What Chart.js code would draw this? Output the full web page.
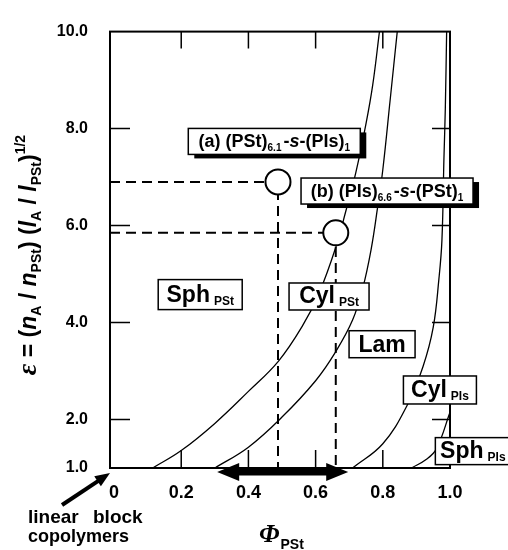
<!DOCTYPE html>
<html>
<head>
<meta charset="utf-8">
<script src="https://cdn.jsdelivr.net/npm/chart.js@4.4.1/dist/chart.umd.min.js"></script>
<style>
    html, body { margin: 0; padding: 0; background: #fff; }
    #wrap { width: 508px; height: 550px; }
</style>
</head>
<body>
<div id="wrap"><canvas id="phaseChart" width="508" height="550"></canvas></div>
<script>
// phase boundaries (x = Φ_PSt, y = ε)
const sphCylX = [0.115, 0.2, 0.3, 0.4, 0.489, 0.56, 0.61, 0.66, 0.69, 0.72, 0.75, 0.77, 0.79];
const sphCylY = [1.0, 1.36, 1.92, 2.58, 3.2, 3.92, 4.6, 5.55, 6.3, 7.1, 8.1, 8.9, 10.0];
const cylLamX = [0.3, 0.4, 0.5, 0.6, 0.66, 0.71, 0.74, 0.765, 0.785, 0.8, 0.822, 0.843];
const cylLamY = [1.0, 1.43, 2.05, 2.8, 3.4, 4.05, 4.7, 5.5, 6.4, 7.15, 8.6, 10.0];
const lamCylX = [0.71, 0.8, 0.873, 0.92, 0.95, 0.967, 0.976, 0.982, 0.986, 0.99];
const lamCylY = [1.0, 1.5, 2.3, 3.1, 3.9, 4.9, 5.7, 7.4, 8.4, 10.0];
const cylSphX = [0.885, 0.93, 0.96, 1.0];
const cylSphY = [1.0, 1.18, 1.4, 2.15];

// samples (a) and (b)
const sampleX = [0.488, 0.66];
const sampleY = [6.9, 5.85];

// range covered by the star copolymers (double arrow)
const starRange = [0.307, 0.697];

const xTicks = [0, 0.2, 0.4, 0.6, 0.8, 1.0];
const xTickLabels = ['0', '0.2', '0.4', '0.6', '0.8', '1.0'];
const yTicks = [1, 2, 4, 6, 8, 10];
const yTickLabels = ['1.0', '2.0', '4.0', '6.0', '8.0', '10.0'];
const innerXTicks = [0.2, 0.4, 0.6, 0.8];
const innerYTicks = [2, 4, 6, 8];

const SANS = '"Liberation Sans", Arial, sans-serif';
const SERIF = '"Liberation Serif", "Times New Roman", serif';

function toPoints(xs, ys) {
    return xs.map((x, i) => ({x: x, y: ys[i]}));
}

function big(t, gap) { return {t: t, f: 'bold 23px ' + SANS, gap: gap || 0}; }
function sub(t) { return {t: t, f: 'bold 12px ' + SANS, dy: 3}; }
function lab(t) { return {t: t, f: 'bold 18px ' + SANS}; }
function labIt(t) { return {t: t, f: 'italic bold 18px ' + SANS}; }
function labSub(t, gap) { return {t: t, f: 'bold 10px ' + SANS, dy: 4, gap: gap || 0}; }

// boxed labels, placed in data coordinates
const phaseLabels = [
    {x: 0.477, y: 7.735, w: 172, h: 26, shadow: true, base: 6,
        parts: [lab('(a) (PSt)'), labSub('6.1', 2), lab('-'), labIt('s'), lab('-(PIs)'), labSub('1')]},
    {x: 0.8126, y: 6.712, w: 172, h: 26, shadow: true, base: 6,
        parts: [lab('(b) (PIs)'), labSub('6.6', 2), lab('-'), labIt('s'), lab('-(PSt)'), labSub('1')]},
    {x: 0.2565, y: 4.576, w: 84, h: 30, base: 7, parts: [big('Sph', 4), sub('PSt')]},
    {x: 0.640, y: 4.537, w: 80, h: 27, base: 7, parts: [big('Cyl', 4), sub('PSt')]},
    {x: 0.7978, y: 3.553, w: 66, h: 27, base: 8, parts: [big('Lam')]},
    {x: 0.970, y: 2.609, w: 73, h: 28, base: 7, parts: [big('Cyl', 4), sub('PIs')]},
    {x: 1.068, y: 1.348, w: 75, h: 27, base: 7, parts: [big('Sph', 4), sub('PIs')]}
];

function richWidth(ctx, parts) {
    let w = 0;
    parts.forEach(p => {
        ctx.font = p.f;
        w += ctx.measureText(p.t).width + (p.gap || 0);
    });
    return w;
}

function drawRich(ctx, parts, x, y) {
    parts.forEach(p => {
        ctx.font = p.f;
        ctx.fillText(p.t, x, y + (p.dy || 0));
        x += ctx.measureText(p.t).width + (p.gap || 0);
    });
}

const framePlugin = {
    id: 'frame',
    beforeDatasetsDraw(chart) {
        const ctx = chart.ctx;
        const a = chart.chartArea;
        const xs = chart.scales.x, ys = chart.scales.y;
        ctx.save();
        ctx.strokeStyle = '#000';
        ctx.lineWidth = 2;
        ctx.strokeRect(a.left, a.top, a.right - a.left, a.bottom - a.top);
        ctx.lineWidth = 1.5;
        ctx.beginPath();
        innerXTicks.forEach(v => {
            const px = xs.getPixelForValue(v);
            ctx.moveTo(px, a.bottom); ctx.lineTo(px, a.bottom - 18);
            ctx.moveTo(px, a.top); ctx.lineTo(px, a.top + 17);
        });
        innerYTicks.forEach(v => {
            const py = ys.getPixelForValue(v);
            ctx.moveTo(a.left, py); ctx.lineTo(a.left + 20, py);
            ctx.moveTo(a.right, py); ctx.lineTo(a.right - 18, py);
        });
        ctx.stroke();
        ctx.restore();
    },
    afterDraw(chart) {
        const ctx = chart.ctx;
        const a = chart.chartArea;
        const xs = chart.scales.x, ys = chart.scales.y;
        ctx.save();
        ctx.fillStyle = '#000';
        ctx.strokeStyle = '#000';
        ctx.textBaseline = 'alphabetic';

        // boxed phase labels
        phaseLabels.forEach(l => {
            const cx = xs.getPixelForValue(l.x);
            const cy = ys.getPixelForValue(l.y);
            const left = cx - l.w / 2, top = cy - l.h / 2;
            if (l.shadow) {
                ctx.fillStyle = '#000';
                ctx.fillRect(left + 6, top + 4, l.w, l.h);
            }
            ctx.fillStyle = '#fff';
            ctx.fillRect(left, top, l.w, l.h);
            ctx.lineWidth = 1.5;
            ctx.strokeRect(left, top, l.w, l.h);
            ctx.fillStyle = '#000';
            const tw = richWidth(ctx, l.parts);
            drawRich(ctx, l.parts, cx - tw / 2, cy + l.base);
        });

        // double arrow along the bottom axis
        const x0 = xs.getPixelForValue(starRange[0]);
        const x1 = xs.getPixelForValue(starRange[1]);
        const ay = a.bottom + 4;
        ctx.fillRect(x0 + 20, ay - 3.5, x1 - x0 - 40, 7);
        ctx.beginPath();
        ctx.moveTo(x0, ay); ctx.lineTo(x0 + 22, ay - 9); ctx.lineTo(x0 + 22, ay + 9); ctx.closePath();
        ctx.moveTo(x1, ay); ctx.lineTo(x1 - 22, ay - 9); ctx.lineTo(x1 - 22, ay + 9); ctx.closePath();
        ctx.fill();

        // arrow to the origin: linear block copolymers
        const ox = xs.getPixelForValue(0) - 4;
        const oy = ys.getPixelForValue(1) + 5;
        const tx = ox - 48, ty = oy + 32;
        const ang = Math.atan2(oy - ty, ox - tx);
        ctx.lineWidth = 4;
        ctx.beginPath();
        ctx.moveTo(tx, ty);
        ctx.lineTo(ox - 10 * Math.cos(ang), oy - 10 * Math.sin(ang));
        ctx.stroke();
        ctx.beginPath();
        ctx.moveTo(ox, oy);
        ctx.lineTo(ox - 15 * Math.cos(ang) + 6 * Math.sin(ang), oy - 15 * Math.sin(ang) - 6 * Math.cos(ang));
        ctx.lineTo(ox - 15 * Math.cos(ang) - 6 * Math.sin(ang), oy - 15 * Math.sin(ang) + 6 * Math.cos(ang));
        ctx.closePath();
        ctx.fill();

        ctx.font = 'bold 19px ' + SANS;
        ctx.textAlign = 'left';
        ctx.fillText('linear', 28, 523);
        ctx.fillText('block', 93, 523);
        ctx.font = 'bold 18px ' + SANS;
        ctx.fillText('copolymers', 28, 542);

        // x axis title
        ctx.font = 'italic bold 26px ' + SERIF;
        ctx.fillText('Φ', 259, 542);
        const phiW = ctx.measureText('Φ').width;
        ctx.font = 'bold 14px ' + SANS;
        ctx.fillText('PSt', 259 + phiW + 1, 549);

        // y axis title, rotated
        const main = 'bold 23px ' + SANS;
        const ital = 'italic bold 23px ' + SANS;
        const sm = 'bold 14px ' + SANS;
        const title = [
            {t: 'ε', f: 'italic bold 28px ' + SERIF},
            {t: ' = (', f: main},
            {t: 'n', f: ital}, {t: 'A', f: sm, dy: 5},
            {t: ' / ', f: main},
            {t: 'n', f: ital}, {t: 'PSt', f: sm, dy: 5},
            {t: ') (', f: main},
            {t: 'l', f: ital}, {t: 'A', f: sm, dy: 5},
            {t: ' / ', f: main},
            {t: 'l', f: ital}, {t: 'PSt', f: sm, dy: 5},
            {t: ')', f: main},
            {t: '1/2', f: sm, dy: -11}
        ];
        const W = richWidth(ctx, title);
        ctx.translate(36, 255);
        ctx.rotate(-Math.PI / 2);
        drawRich(ctx, title, -W / 2, 0);
        ctx.restore();
    }
};

const ctx = document.getElementById('phaseChart');
const curveStyle = {borderColor: '#000', borderWidth: 1.3, pointRadius: 0, tension: 0.4, fill: false, order: 2};

new Chart(ctx, {
    type: 'line',
    data: {
        datasets: [
            Object.assign({label: 'Sph/Cyl', data: toPoints(sphCylX, sphCylY)}, curveStyle),
            Object.assign({label: 'Cyl/Lam', data: toPoints(cylLamX, cylLamY)}, curveStyle),
            Object.assign({label: 'Lam/Cyl', data: toPoints(lamCylX, lamCylY)}, curveStyle),
            Object.assign({label: 'Cyl/Sph', data: toPoints(cylSphX, cylSphY)}, curveStyle),
            {
                label: 'guide a',
                data: [{x: -0.012, y: sampleY[0]}, {x: sampleX[0], y: sampleY[0]}, {x: sampleX[0], y: 1}],
                borderColor: '#000', borderWidth: 2, borderDash: [10, 6], pointRadius: 0, tension: 0, order: 1
            },
            {
                label: 'guide b',
                data: [{x: -0.012, y: sampleY[1]}, {x: sampleX[1], y: sampleY[1]}, {x: sampleX[1], y: 1}],
                borderColor: '#000', borderWidth: 2, borderDash: [10, 6], pointRadius: 0, tension: 0, order: 1
            },
            {
                label: 'samples',
                data: toPoints(sampleX, sampleY),
                showLine: false,
                pointRadius: 12.5,
                pointStyle: 'circle',
                pointBackgroundColor: '#fff',
                pointBorderColor: '#000',
                pointBorderWidth: 2,
                order: 0
            }
        ]
    },
    options: {
        responsive: false,
        animation: false,
        layout: {padding: {top: 15, right: 58, left: 0, bottom: 0}},
        plugins: {
            legend: {display: false},
            tooltip: {enabled: false}
        },
        scales: {
            x: {
                type: 'linear',
                min: -0.012,
                max: 1.0,
                afterBuildTicks: s => { s.ticks = xTicks.map(v => ({value: v})); },
                afterFit: s => { s.height = 82; },
                grid: {display: false, drawTicks: false},
                border: {display: false},
                ticks: {
                    autoSkip: false,
                    maxRotation: 0,
                    padding: 14,
                    color: '#000',
                    font: {family: SANS, size: 18, weight: 'bold'},
                    callback: (v, i) => xTickLabels[i]
                }
            },
            y: {
                type: 'linear',
                min: 1,
                max: 10,
                afterBuildTicks: s => { s.ticks = yTicks.map(v => ({value: v})); },
                afterFit: s => { s.width = 110; },
                grid: {display: false, drawTicks: false},
                border: {display: false},
                ticks: {
                    autoSkip: false,
                    padding: 22,
                    color: '#000',
                    font: {family: SANS, size: 16, weight: 'bold'},
                    callback: (v, i) => yTickLabels[i]
                }
            }
        }
    },
    plugins: [framePlugin]
});
</script>
</body>
</html>
